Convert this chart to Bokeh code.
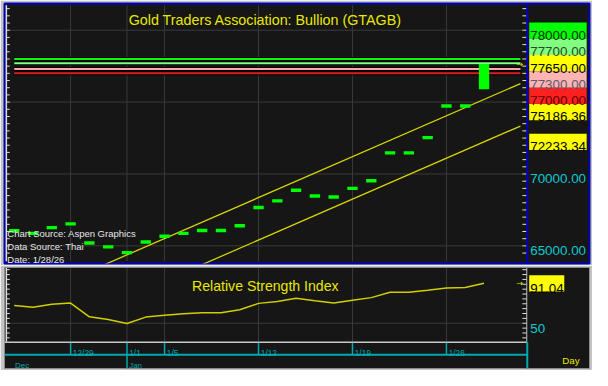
from bokeh.plotting import figure
from bokeh.layouts import column
from bokeh.models import Range1d
from bokeh.core.properties import value
from bokeh.embed import file_html
from bokeh.resources import INLINE

# ---------------- data ----------------
dates = ["12/23", "12/24", "12/26", "12/29", "12/30", "12/31", "1/1", "1/2",
         "1/5", "1/6", "1/7", "1/8", "1/9", "1/12", "1/13", "1/14", "1/15", "1/16",
         "1/19", "1/20", "1/21", "1/22", "1/23", "1/26", "1/27", "1/28"]
close = [66050, 65870, 66270, 66530, 65200, 64930, 64530, 65270,
         65670, 65870, 66070, 66070, 66400, 67670, 68130, 68870, 68470, 68400,
         69000, 69530, 71470, 71470, 72530, 74730, 74730, 77650]
last_low = 75900
rsi = [68.1, 66.4, 69.4, 70.7, 56.6, 53.9, 49.7, 56.3,
       58.3, 59.8, 60.8, 60.8, 63.8, 70.4, 72.3, 75.6, 73.0, 70.7,
       73.6, 76.3, 81.9, 81.9, 83.9, 86.1, 86.8, 91.04]

level_values = [78000, 77700, 77300, 77000]
level_colors = ["#00ff00", "#80ff80", "#ffa8a8", "#e02020"]

channel_upper_last = 75186.36
channel_lower_last = 72233.34
channel_slope = 569.0

price_ticks = [65000, 70000, 75000, 80000]
rsi_ticks = [50]
date_ticks = ["12/29", "1/1", "1/5", "1/12", "1/19", "1/26"]
month_labels = ["Dec", "Jan"]
month_starts = ["12/23", "1/1"]

title_text = "Gold Traders Association: Bullion (GTAGB)"
rsi_title = "Relative Strength Index"
notes = ["Chart Source: Aspen Graphics", "Data Source: Thai", "Date: 1/28/26"]

tag_values = [78000, 77700, 77650, 77300, 77000, 75186.36, 72233.34]
tag_bg = ["#00ff00", "#80ff80", "#ffff00", "#ffb4b4", "#ff2020", "#ffff00", "#ffff00"]
tag_fg = ["#0a300a", "#2a4a2a", "#000000", "#5a5a6a", "#600000", "#000000", "#000000"]

# ---------------- layout helpers ----------------
W, H_TOP, H_BOT = 592, 265, 105
SX = 592 / 608
SY = 370 / 386
FS = 0.966
FONT = "Liberation Sans"
DARK = "#161616"
BORDER = "#c4c4c4"
GRID = "#3a3a3a"
CYAN = "#10c8d0"
TEAL = "#00a8b0"
YEL = "#e8e800"


def idx_at(xr):
    return (xr - 14.1) / 19.3


def price_at(yr):
    return 70000 + (181.0 - yr) / 0.015


def rsi_at(yr):
    return 50 + (336.7 - yr) / 1.016


def fsz(px):
    return value(f"{px * FS:.1f}px")


last = len(dates) - 1
xs = list(range(len(dates)))
tick_idx = [dates.index(d) for d in date_ticks]
x_range = Range1d(idx_at(4 / SX), idx_at(589 / SX))
TAG_FS = 13.9
cap = 0.716 * TAG_FS * FS / 2

# ---------------- price panel ----------------
p = figure(width=W, height=H_TOP, x_range=x_range,
           y_range=Range1d(price_at(263 / SY), price_at(3 / SY)),
           output_backend="svg", toolbar_location=None,
           x_axis_location=None, y_axis_location=None, title=None,
           min_border_left=4, min_border_right=3, min_border_top=3, min_border_bottom=2,
           background_fill_color=DARK, border_fill_color=BORDER,
           outline_line_color="#0000c0", outline_line_width=2)
p.grid.visible = False

# grid
p.segment(x0=idx_at(6), x1=idx_at(536), y0=price_ticks, y1=price_ticks,
          line_color=GRID, line_width=1)
p.segment(x0=tick_idx, x1=tick_idx, y0=price_at(5), y1=price_at(272),
          line_color=GRID, line_width=1)

# regression channel
cx = [0, idx_at(534)]
p.line(cx, [channel_upper_last + channel_slope * (x - last) for x in cx],
       line_color="#d4d400", line_width=1.3)
p.line(cx, [channel_lower_last + channel_slope * (x - last) for x in cx],
       line_color="#d4d400", line_width=1.3)

# level lines
for v, c in zip(level_values, level_colors):
    p.line(cx, [v, v], line_color="black", line_width=4)
for v, c in zip(level_values, level_colors):
    p.line(cx, [v, v], line_color=c, line_width=2)

# price marks
p.rect(x=xs[:-1], y=close[:-1], width=0.55, height=3.4, height_units="screen",
       fill_color="#00ff00", line_color=None)
p.vbar(x=[last], top=[close[-1]], bottom=[last_low], width=0.55,
       fill_color="#00ff00", line_color=None)

# title and notes
p.text(x=[idx_at(272)], y=[price_at(20.5)], text=[title_text], text_align="center",
       text_baseline="alphabetic", text_font=value(FONT), text_font_size=fsz(14.8),
       text_color=YEL)
p.text(x=idx_at(7), y=[price_at(242.7), price_at(256.7), price_at(270.7)], text=notes,
       text_align="left", text_baseline="alphabetic", text_font=value(FONT),
       text_font_size=fsz(9.8), text_color="#e6e6e6")

# axes (left white, right blue with ticks)
minor = list(range(64500, 82001, 500))
p.segment(x0=idx_at(6), x1=idx_at(6), y0=price_at(5), y1=price_at(272),
          line_color="#e0e0e0", line_width=1.5)
p.segment(x0=idx_at(6), x1=idx_at(9.5), y0=minor, y1=minor, line_color="#e0e0e0", line_width=1)
p.segment(x0=idx_at(536), x1=idx_at(540.5), y0=minor, y1=minor, line_color="#e0e0e0", line_width=1)
p.segment(x0=idx_at(541), x1=idx_at(541), y0=price_at(0), y1=price_at(280),
          line_color="#0000c0", line_width=2)

# price tags, stacked so they do not overlap
tag_h = 17 / 0.015


def stack(desired, h):
    groups = [[i] for i in range(len(desired))]

    def pos(g):
        c = sum(desired[i] for i in g) / len(g)
        top = c + h * (len(g) - 1) / 2
        return [top - h * k for k in range(len(g))]

    changed = True
    while changed:
        changed = False
        for gi in range(len(groups) - 1):
            if pos(groups[gi])[-1] - pos(groups[gi + 1])[0] < h - 1e-6:
                groups[gi] = groups[gi] + groups[gi + 1]
                del groups[gi + 1]
                changed = True
                break
    out = [0] * len(desired)
    for g in groups:
        for i, y in zip(g, pos(g)):
            out[i] = y
    return out


tag_pos = stack(tag_values, tag_h)
p.rect(x=idx_at(572.5), y=tag_pos, width=59 * SX, height=17 * SY,
       width_units="screen", height_units="screen", fill_color=tag_bg, line_color=None)
p.text(x=idx_at(544), y=tag_pos, text=[f"{v:.2f}" for v in tag_values],
       text_color=tag_fg, text_align="left", text_baseline="alphabetic", y_offset=cap,
       text_font=value(FONT), text_font_size=fsz(TAG_FS))

shown = [t for t in price_ticks
         if all(abs(t - y) >= tag_h for y in tag_pos) and price_at(270) < t < price_at(6)]
p.text(x=idx_at(544), y=shown, text=[f"{t:.2f}" for t in shown], text_color=CYAN,
       text_align="left", text_baseline="alphabetic", y_offset=cap,
       text_font=value(FONT), text_font_size=fsz(TAG_FS))

p.text(x=[idx_at(530)], y=[close[-1]], text=["\u2192"], text_color=YEL,
       text_align="left", text_baseline="middle", text_font=value("DejaVu Sans"),
       text_font_size=value("8px"))

# ---------------- RSI panel ----------------
q = figure(width=W, height=H_BOT, x_range=x_range,
           y_range=Range1d(rsi_at(368 / SY), rsi_at(267 / SY)),
           output_backend="svg", toolbar_location=None,
           x_axis_location=None, y_axis_location=None, title=None,
           min_border_left=4, min_border_right=3, min_border_top=2, min_border_bottom=2,
           background_fill_color=DARK, border_fill_color=BORDER,
           outline_line_color="#8a8a8a", outline_line_width=1)
q.grid.visible = False

q.segment(x0=tick_idx, x1=tick_idx, y0=rsi_at(279), y1=rsi_at(356), line_color=GRID, line_width=1)
q.segment(x0=idx_at(6), x1=idx_at(536), y0=rsi_ticks, y1=rsi_ticks, line_color=GRID, line_width=1)

q.line(xs, rsi, line_color="#d0d000", line_width=1.5)
q.text(x=[idx_at(272)], y=[rsi_at(298)], text=[rsi_title], text_align="center",
       text_baseline="alphabetic", text_font=value(FONT), text_font_size=fsz(14.6),
       text_color=YEL)

rminor = list(range(35, 106, 5))
q.segment(x0=idx_at(6), x1=idx_at(6), y0=rsi_at(279), y1=rsi_at(356),
          line_color="#e0e0e0", line_width=1.5)
q.segment(x0=idx_at(6), x1=idx_at(9.5), y0=rminor, y1=rminor, line_color="#e0e0e0", line_width=1)
q.segment(x0=idx_at(536), x1=idx_at(540.5), y0=rminor, y1=rminor, line_color="#e0e0e0", line_width=1)
q.segment(x0=idx_at(540.5), x1=idx_at(540.5), y0=rsi_at(279), y1=rsi_at(356),
          line_color="#bcbcbc", line_width=1)

# x axis band
q.segment(x0=idx_at(4), x1=idx_at(541), y0=rsi_at(356.5), y1=rsi_at(356.5),
          line_color="#c8c8c8", line_width=1.5)
q.segment(x0=tick_idx, x1=tick_idx, y0=rsi_at(357), y1=rsi_at(369.5), line_color=TEAL, line_width=1.5)
q.segment(x0=idx_at(4), x1=idx_at(541), y0=rsi_at(369.5), y1=rsi_at(369.5),
          line_color=TEAL, line_width=2)
month_idx = [dates.index(d) for d in month_starts]
q.segment(x0=month_idx[1:], x1=month_idx[1:], y0=rsi_at(369.5), y1=rsi_at(392),
          line_color=TEAL, line_width=1.5)
q.segment(x0=idx_at(541), x1=idx_at(541), y0=rsi_at(356.5), y1=rsi_at(392),
          line_color=TEAL, line_width=2)

q.text(x=[i + 0.12 for i in tick_idx], y=rsi_at(367.3), text=date_ticks, text_color=TEAL,
       text_align="left", text_baseline="alphabetic", text_font=value(FONT),
       text_font_size=fsz(8.6))
mx = [idx_at(15)] + [i + 0.12 for i in month_idx[1:]]
q.text(x=mx, y=rsi_at(380.5), text=month_labels, text_color=TEAL,
       text_align="left", text_baseline="alphabetic", text_font=value(FONT),
       text_font_size=fsz(8.2))
q.text(x=[idx_at(577)], y=[rsi_at(376)], text=["Day"], text_color=YEL,
       text_align="left", text_baseline="alphabetic", text_font=value(FONT),
       text_font_size=fsz(10))

# RSI tag and axis label
q.rect(x=[idx_at(561)], y=[rsi[-1]], width=36 * SX, height=17 * SY,
       width_units="screen", height_units="screen", fill_color="#ffff00", line_color=None)
q.text(x=[idx_at(544)], y=[rsi[-1]], text=[f"{rsi[-1]:.2f}"], text_color="#000000",
       text_align="left", text_baseline="alphabetic", y_offset=cap,
       text_font=value(FONT), text_font_size=fsz(TAG_FS))
q.text(x=idx_at(544), y=rsi_ticks, text=[f"{t:d}" for t in rsi_ticks], text_color=CYAN,
       text_align="left", text_baseline="alphabetic", y_offset=cap,
       text_font=value(FONT), text_font_size=fsz(TAG_FS))
q.text(x=[idx_at(530)], y=[rsi[-1]], text=["\u2192"], text_color=YEL,
       text_align="left", text_baseline="middle", text_font=value("DejaVu Sans"),
       text_font_size=value("8px"))

layout = column(p, q, spacing=0)
open("out.html", "w").write(file_html(layout, INLINE))
